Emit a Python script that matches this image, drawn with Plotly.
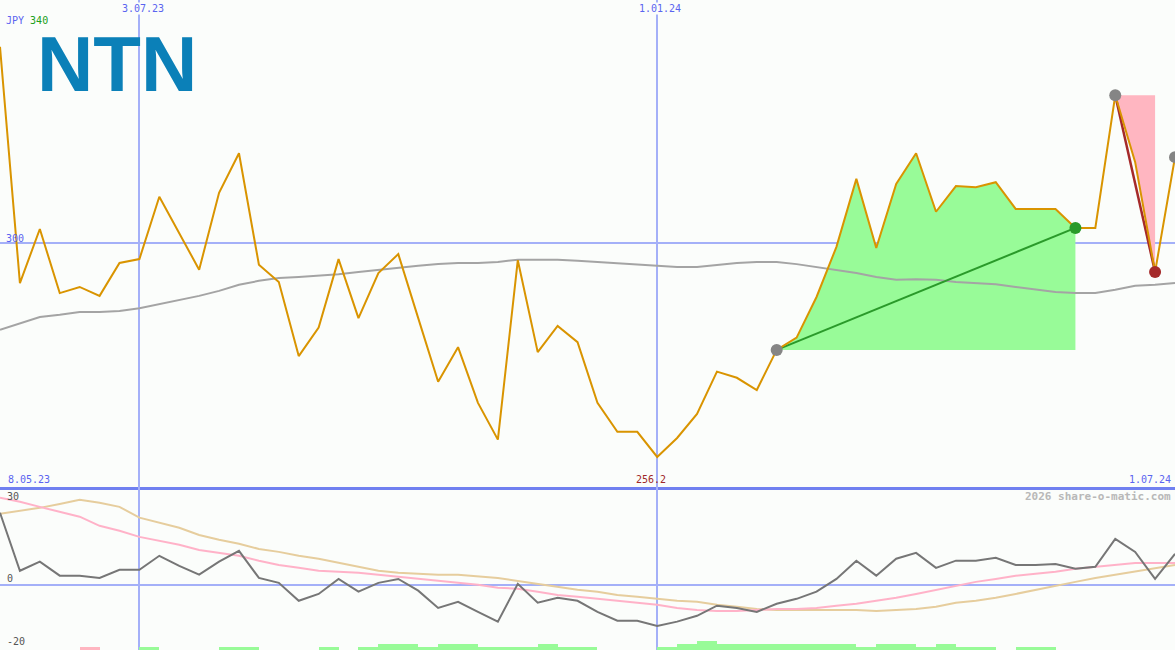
import plotly.graph_objects as go
import pandas as pd

# ---- data -------------------------------------------------------------
dates = pd.date_range("2023-05-15", periods=60, freq="7D").strftime("%Y-%m-%d").tolist()

price = [335.2, 292.8, 302.5, 291.0, 292.1, 290.5, 296.4, 297.1, 308.3, 301.8,
         295.2, 309.0, 316.1, 296.1, 293.0, 279.7, 284.8, 297.1, 286.5, 294.6,
         298.0, 286.5, 275.1, 281.3, 271.3, 264.7, 296.9, 280.4, 285.1, 282.2,
         271.3, 266.1, 266.1, 261.6, 265.0, 269.3, 276.9, 275.8, 273.6, 280.8,
         283.0, 290.3, 299.3, 311.5, 299.1, 310.6, 316.1, 305.6, 310.2, 310.0,
         310.9, 306.1, 306.1, 306.1, 302.7, 302.7, 326.5, 314.5, 294.8, 315.4]

avg_line = [284.4, 285.6, 286.7, 287.1, 287.6, 287.6, 287.8, 288.3, 289.0, 289.8,
            290.5, 291.4, 292.5, 293.2, 293.7, 293.9, 294.1, 294.4, 294.8, 295.2,
            295.5, 295.9, 296.2, 296.4, 296.4, 296.6, 297.0, 297.0, 297.0, 296.8,
            296.6, 296.4, 296.2, 295.9, 295.7, 295.7, 296.1, 296.4, 296.6, 296.6,
            296.2, 295.7, 295.2, 294.6, 293.9, 293.4, 293.5, 293.4, 293.0, 292.8,
            292.6, 292.1, 291.7, 291.2, 291.0, 291.0, 291.6, 292.3, 292.5, 292.8]

momentum = [22.1, 4.3, 7.1, 2.8, 2.8, 2.1, 4.6, 4.6, 8.9, 5.8,
            3.1, 7.1, 10.4, 2.1, 0.6, -4.9, -2.8, 1.8, -2.1, 0.6,
            1.8, -1.8, -7.1, -5.2, -8.3, -11.3, 0.3, -5.5, -4.0, -4.9,
            -8.3, -11.0, -11.0, -12.6, -11.3, -9.5, -6.4, -7.1, -8.3, -5.8,
            -4.3, -2.1, 1.8, 7.4, 2.8, 8.0, 9.8, 5.2, 7.4, 7.4,
            8.3, 6.1, 6.1, 6.4, 4.9, 5.5, 14.1, 10.1, 1.8, 9.5]

pink_avg = [26.7, 25.5, 23.9, 22.4, 20.9, 18.1, 16.6, 14.7, 13.5, 12.3,
            10.7, 9.8, 8.9, 7.4, 6.1, 5.2, 4.3, 4.0, 3.7, 3.1,
            2.5, 1.8, 1.2, 0.6, 0.0, -0.9, -1.2, -2.1, -3.1, -3.7,
            -4.3, -4.9, -5.5, -6.1, -7.1, -7.7, -8.0, -8.0, -7.7, -7.4,
            -7.4, -7.1, -6.4, -5.8, -4.9, -4.0, -2.8, -1.5, -0.3, 0.9,
            1.8, 2.8, 3.4, 4.0, 4.9, 5.5, 6.1, 6.7, 6.7, 6.7]

tan_avg = [21.8, 22.7, 23.6, 24.8, 26.1, 25.2, 23.9, 20.6, 19.0, 17.5,
           15.3, 13.8, 12.6, 11.0, 10.1, 8.9, 8.0, 6.7, 5.5, 4.3,
           3.7, 3.4, 3.1, 3.1, 2.5, 2.1, 1.2, 0.3, -0.6, -1.5,
           -2.1, -3.1, -3.7, -4.3, -4.9, -5.2, -6.1, -6.7, -7.4, -7.7,
           -7.7, -7.7, -7.7, -7.7, -8.0, -7.7, -7.4, -6.7, -5.5, -4.9,
           -4.0, -2.8, -1.5, -0.3, 0.9, 2.1, 3.1, 4.0, 5.2, 6.1]

signal = [0, 0, 0, 0, -1, 0, 0, 1, 0, 0,
          0, 1, 1, 0, 0, 0, 1, 0, 1, 2,
          2, 1, 2, 2, 1, 1, 1, 2, 1, 1,
          0, 0, 0, 1, 2, 3, 2, 2, 2, 2,
          2, 2, 2, 1, 2, 2, 1, 2, 1, 1,
          0, 1, 1, 0, 0, 0, 0, 0, 0, 0]

up_start, up_end = 39, 54        # rising swing (green)
down_start, down_end = 56, 58    # falling swing (pink)
grid_dates = [dates[7], dates[33]]
grid_labels = ["3.07.23", "1.01.24"]

# ---- styles -----------------------------------------------------------
BG = "#fbfdfb"
GRID = "#a4b0f8"
ORANGE = "#d99400"
MONO = "DejaVu Sans Mono"
W, H = 1175, 650
split = 487  # px from top where panels meet

fig = go.Figure()

# green fill (rise)
gx = dates[up_start:up_end + 1] + [dates[up_end], dates[up_start]]
gy = price[up_start:up_end + 1] + [price[up_start], price[up_start]]
fig.add_trace(go.Scatter(x=gx, y=gy, fill="toself", fillcolor="#98fb98",
                         line=dict(width=0), mode="lines", hoverinfo="skip"))
# pink fill (fall)
px_ = dates[down_start:down_end + 1] + [dates[down_end]]
py_ = price[down_start:down_end + 1] + [price[down_start]]
fig.add_trace(go.Scatter(x=px_, y=py_, fill="toself", fillcolor="#ffb6c1",
                         line=dict(width=0), mode="lines", hoverinfo="skip"))

# moving average
fig.add_trace(go.Scatter(x=dates, y=avg_line, mode="lines",
                         line=dict(color="#a4a4a4", width=2)))

# swing lines
fig.add_trace(go.Scatter(x=[dates[up_start], dates[up_end]],
                         y=[price[up_start], price[up_end]], mode="lines",
                         line=dict(color="#2a9a2a", width=2)))
fig.add_trace(go.Scatter(x=[dates[down_start], dates[down_end]],
                         y=[price[down_start], price[down_end]], mode="lines",
                         line=dict(color="#a52a2a", width=2.5)))

# price
fig.add_trace(go.Scatter(x=dates, y=price, mode="lines",
                         line=dict(color=ORANGE, width=2)))

# markers
mk_idx = [up_start, up_end, down_start, down_end, len(dates) - 1]
mk_col = ["#858585", "#2a9a2a", "#858585", "#a52a2a", "#858585"]
fig.add_trace(go.Scatter(x=[dates[i] for i in mk_idx], y=[price[i] for i in mk_idx],
                         mode="markers", marker=dict(size=12, color=mk_col),
                         cliponaxis=False))

# lower panel
fig.add_trace(go.Scatter(x=dates, y=tan_avg, mode="lines", xaxis="x2", yaxis="y2",
                         line=dict(color="#e6cd9d", width=2)))
fig.add_trace(go.Scatter(x=dates, y=pink_avg, mode="lines", xaxis="x2", yaxis="y2",
                         line=dict(color="#ffb2c8", width=2)))
fig.add_trace(go.Scatter(x=dates, y=momentum, mode="lines", xaxis="x2", yaxis="y2",
                         line=dict(color="#767676", width=2)))
fig.add_trace(go.Bar(x=dates, y=[abs(s) for s in signal], base=0, offset=0,
                     width=7 * 86400000, xaxis="x2", yaxis="y3",
                     marker=dict(color=["#ffb6c1" if s < 0 else "#98fb98" for s in signal],
                                 line=dict(width=0))))

dom_split = 1 - split / H

def py(p):
    return 1 - p / H

def lab(text, x, y, color, size=10, xanchor="left", xref="paper", xshift=0, bg=None, bold=False):
    return dict(text=("<b>%s</b>" % text) if bold else text, x=x, y=py(y), xref=xref, yref="paper",
                xanchor=xanchor, yanchor="middle", showarrow=False, xshift=xshift,
                font=dict(family=MONO, size=size, color=color),
                bgcolor=bg, borderpad=0)

annotations = [
    dict(text="<b>NTN</b>", x=116.5 / W, y=py(64), xref="paper", yref="paper",
         xanchor="center", yanchor="middle", showarrow=False, height=66,
         font=dict(family="Liberation Sans", size=78, color="#0b80b8")),
    lab("<span style='color:#5a64f0'>JPY</span> <span style='color:#20a020'>340</span>",
        5 / W, 20, "#5a64f0"),
    lab(grid_labels[0], grid_dates[0], 9, "#5a64f0", xanchor="center", xref="x", xshift=4, bg=BG),
    lab(grid_labels[1], grid_dates[1], 9, "#5a64f0", xanchor="center", xref="x", xshift=3, bg=BG),
    lab("300", 5 / W, 238, "#5a64f0"),
    lab("8.05.23", 7 / W, 479, "#5a64f0"),
    lab("256.2", 651 / W, 479, "#a02828", xanchor="center"),
    lab("1.07.24", 1172 / W, 479, "#5a64f0", xanchor="right"),
    lab("2026 share-o-matic.com", 1172 / W, 496, "#b8b8b8", size=11, xanchor="right", bold=True),
    lab("30", 6 / W, 496, "#555555"),
    lab("0", 6 / W, 578, "#555555"),
    lab("-20", 6 / W, 641, "#555555"),
]

# background patch behind the logo (hides the grid line there)
shapes = [dict(type="rect", xref="paper", yref="paper", layer="between",
               x0=33 / W, x1=200 / W, y0=py(95), y1=py(33),
               fillcolor=BG, line=dict(width=0))]

axis_common = dict(showline=False, zeroline=False, ticks="", showticklabels=False)

fig.update_layout(
    width=W, height=H,
    margin=dict(l=0, r=0, t=0, b=0),
    paper_bgcolor=BG, plot_bgcolor=BG,
    showlegend=False, hovermode=False, bargap=0,
    xaxis=dict(type="date", range=[dates[0], dates[-1]], domain=[0, 1], anchor="y",
               tickvals=grid_dates, showgrid=True, gridcolor=GRID, gridwidth=2,
               showline=True, linecolor="#7080f0", linewidth=3,
               zeroline=False, ticks="", showticklabels=False),
    xaxis2=dict(type="date", range=[dates[0], dates[-1]], domain=[0, 1], anchor="y2",
                tickvals=grid_dates, showgrid=True, gridcolor=GRID, gridwidth=2, **axis_common),
    yaxis=dict(domain=[dom_split, 1], range=[256.2, 343.6], tickvals=[300],
               showgrid=True, gridcolor=GRID, gridwidth=2, anchor="x", **axis_common),
    yaxis2=dict(domain=[0, dom_split], range=[-20.0, 30.0], tickvals=[0],
                showgrid=True, gridcolor=GRID, gridwidth=2, anchor="x2", **axis_common),
    yaxis3=dict(overlaying="y2", range=[0, (H - split) / 3], anchor="x2",
                visible=False, showgrid=False),
    annotations=annotations,
    shapes=shapes,
)

fig.write_html("out.html", config={"displayModeBar": False},
               post_script="document.body.style.margin='0';document.body.style.overflow='hidden';")
